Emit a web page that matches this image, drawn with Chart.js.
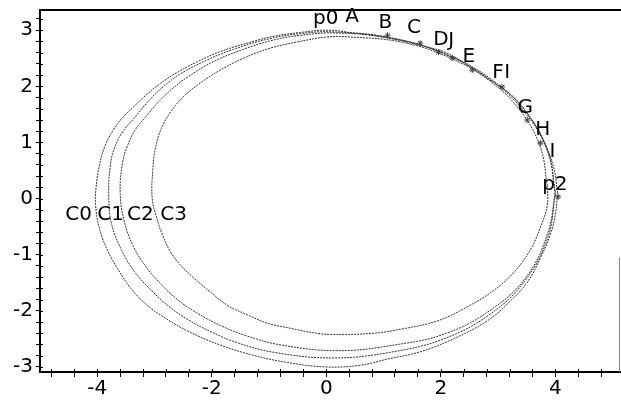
<!DOCTYPE html>
<html>
<head>
<meta charset="utf-8">
<script src="https://cdn.jsdelivr.net/npm/chart.js@4/dist/chart.umd.min.js"></script>
<style>
html,body{margin:0;padding:0;background:#fff;}
.chart_box{width:621px;height:408px;}
</style>
</head>
<body>
<div class="chart_box"><canvas id="chart"></canvas></div>
<script>
// curve C0 (outermost)
var c0x = [4.04, 3.97, 3.79, 3.56, 3.27, 2.92, 2.52, 2.11, 1.64, 1.07, 0.47, 0.02, -0.45, -0.93, -1.38, -1.85, -2.25, -2.6, -2.9, -3.13, -3.37, -3.55, -3.72, -3.86, -3.96, -4.02, -4.03, -3.97, -3.84, -3.65, -3.42, -3.13, -2.78, -2.38, -1.85, -1.28, -0.68, 0.0, 0.59, 1.07, 1.64, 2.22, 2.81, 3.16, 3.51, 3.74, 3.91, 4.0, 4.04];
var c0y = [0.1, 0.56, 1.04, 1.45, 1.81, 2.07, 2.34, 2.59, 2.73, 2.86, 2.95, 3.0, 2.96, 2.89, 2.77, 2.62, 2.44, 2.25, 2.05, 1.86, 1.63, 1.45, 1.22, 0.95, 0.6, 0.2, -0.1, -0.5, -0.88, -1.24, -1.59, -1.9, -2.15, -2.38, -2.61, -2.79, -2.92, -3.0, -2.97, -2.86, -2.73, -2.5, -2.18, -1.88, -1.49, -1.06, -0.65, -0.29, 0.1];

var c1x = [4.0, 3.87, 3.48, 2.86, 2.05, 1.11, 0.1, -0.45, -1.03, -1.62, -2.08, -2.55, -2.85, -3.13, -3.34, -3.55, -3.7, -3.77, -3.8, -3.75, -3.57, -3.35, -3.09, -2.75, -2.41, -2.0, -1.55, -0.91, 0.1, 1.11, 2.05, 2.86, 3.48, 3.87, 4.0];
var c1y = [0.07, 0.82, 1.52, 2.12, 2.58, 2.87, 2.97, 2.94, 2.84, 2.66, 2.47, 2.22, 1.99, 1.71, 1.45, 1.2, 0.9, 0.6, 0.07, -0.45, -0.93, -1.3, -1.6, -1.92, -2.16, -2.38, -2.57, -2.74, -2.84, -2.74, -2.5, -2.06, -1.45, -0.69, 0.07];

var c2x = [4.0, 3.87, 3.49, 2.89, 2.1, 1.18, 0.2, -0.45, -0.98, -1.5, -1.97, -2.43, -2.72, -2.95, -3.16, -3.34, -3.48, -3.56, -3.6, -3.53, -3.37, -3.16, -2.91, -2.6, -2.24, -1.85, -1.41, -0.78, 0.2, 1.18, 2.1, 2.89, 3.49, 3.87, 4.0];
var c2y = [0.12, 0.85, 1.54, 2.12, 2.57, 2.85, 2.95, 2.91, 2.81, 2.64, 2.44, 2.16, 1.93, 1.7, 1.45, 1.22, 0.92, 0.63, 0.12, -0.4, -0.85, -1.2, -1.5, -1.8, -2.05, -2.26, -2.44, -2.61, -2.71, -2.61, -2.4, -1.97, -1.4, -0.61, 0.12];

// curve C3 (innermost)
var c3x = [3.86, 3.74, 3.4, 2.85, 2.13, 1.3, 0.41, 0.02, -0.51, -0.98, -1.45, -1.85, -2.2, -2.5, -2.72, -2.88, -2.98, -3.03, -3.04, -2.96, -2.86, -2.72, -2.55, -2.32, -2.03, -1.73, -1.38, -1.03, -0.63, -0.23, 0.07, 0.82, 1.34, 1.94, 2.46, 2.92, 3.27, 3.56, 3.74, 3.86, 3.86];
var c3y = [0.23, 0.91, 1.55, 2.1, 2.52, 2.79, 2.88, 2.88, 2.79, 2.68, 2.5, 2.29, 2.06, 1.81, 1.54, 1.25, 0.92, 0.51, 0.0, -0.35, -0.65, -0.95, -1.18, -1.41, -1.66, -1.9, -2.07, -2.22, -2.31, -2.39, -2.42, -2.4, -2.32, -2.18, -1.93, -1.64, -1.32, -0.92, -0.51, -0.12, 0.23];

// small star marks along the labelled arc
var markX = [1.07, 1.64, 1.96, 2.2, 2.55, 3.07, 3.51, 3.74, 4.05];
var markY = [2.91, 2.77, 2.61, 2.5, 2.29, 1.99, 1.4, 0.99, 0.03];

// text labels (left edge, baseline) in data units
var labelNames = ["p0", "A", "B", "C", "D", "J", "E", "F", "I", "G", "H", "I", "p2", "C0", "C1", "C2", "C3"];
var labelX = [-0.23, 0.33, 0.91, 1.41, 1.87, 2.13, 2.38, 2.9, 3.11, 3.34, 3.65, 3.9, 3.77, -4.56, -4.0, -3.48, -2.9];
var labelY = [3.11, 3.14, 3.04, 2.95, 2.73, 2.71, 2.43, 2.15, 2.15, 1.52, 1.13, 0.74, 0.15, -0.38, -0.38, -0.38, -0.38];

var xLabels = [-4, -2, 0, 2, 4];
var yLabels = [-3, -2, -1, 0, 1, 2, 3];
var xMinorStep = 0.4;
var yMinorStep = 0.2;
var rightEdgeFrom = -1.05; // the right frame line only shows below this y

function Pts(xs, ys){
  var out = [];
  for(var i = 0; i < xs.length; i++){
    out.push({x: xs[i], y: ys[i]});
  }
  return out;
}

function TickValues(from, to, step){
  var out = [];
  for(var v = from; v <= to + 1e-9; v += step){
    out.push(Math.round(v * 10) / 10);
  }
  return out;
}

function CurveSet(xs, ys){
  return {
    data: Pts(xs, ys),
    showLine: true,
    borderColor: "#333",
    borderWidth: 1,
    borderDash: [2, 1],
    pointRadius: 0,
    fill: false,
    tension: 0.4
  };
}

var labelPlugin = {
  id: "labels",
  afterDraw: function(chart){
    var ctx = chart.ctx;
    var xs = chart.scales.x, ys = chart.scales.y;
    var area = chart.chartArea;
    ctx.save();
    // top frame line, and the bottom axis carried on to the edge
    ctx.strokeStyle = "#000";
    ctx.lineWidth = 2;
    ctx.beginPath();
    ctx.moveTo(area.left, area.top);
    ctx.lineTo(chart.width, area.top);
    ctx.moveTo(area.right - 1, area.bottom);
    ctx.lineTo(chart.width, area.bottom);
    ctx.stroke();

    // tick stubs poking into the plot
    ctx.lineWidth = 1;
    ctx.beginPath();
    xs.ticks.forEach(function(t){
      var px = Math.round(xs.getPixelForValue(t.value)) + 0.5;
      ctx.moveTo(px, area.bottom);
      ctx.lineTo(px, area.bottom - 3);
    });
    ys.ticks.forEach(function(t){
      var py = Math.round(ys.getPixelForValue(t.value)) + 0.5;
      ctx.moveTo(area.left, py);
      ctx.lineTo(area.left + 3, py);
    });
    ctx.stroke();

    // bit of right frame
    ctx.strokeStyle = "#888";
    ctx.beginPath();
    ctx.moveTo(chart.width - 1.5, ys.getPixelForValue(rightEdgeFrom));
    ctx.lineTo(chart.width - 1.5, area.bottom);
    ctx.stroke();

    ctx.fillStyle = "#000";
    ctx.font = "20px 'DejaVu Sans'";
    ctx.textAlign = "left";
    ctx.textBaseline = "alphabetic";
    for(var i = 0; i < labelNames.length; i++){
      ctx.fillText(labelNames[i], xs.getPixelForValue(labelX[i]), ys.getPixelForValue(labelY[i]));
    }
    ctx.restore();
  }
};

function Init(){
  Chart.defaults.font.family = "'DejaVu Sans'";
  Chart.defaults.font.size = 20;
  Chart.defaults.color = "#000";

  var xTicks = TickValues(-4.8, 4.8, xMinorStep);
  var yTicks = TickValues(-3, 3.2, yMinorStep);

  new Chart(document.getElementById("chart"), {
    type: "scatter",
    data: {
      datasets: [
        CurveSet(c0x, c0y),
        CurveSet(c1x, c1y),
        CurveSet(c2x, c2y),
        CurveSet(c3x, c3y),
        {
          data: Pts(markX, markY),
          pointStyle: "star",
          pointRadius: 3,
          borderColor: "#444",
          borderWidth: 1,
          showLine: false
        }
      ]
    },
    options: {
      responsive: true,
      maintainAspectRatio: false,
      animation: false,
      layout: {padding: {top: 10, right: 1, left: 0, bottom: 0}},
      plugins: {legend: {display: false}, tooltip: {enabled: false}},
      scales: {
        x: {
          type: "linear",
          min: -5,
          max: 5.06,
          afterBuildTicks: function(axis){ axis.ticks = xTicks.map(function(v){ return {value: v}; }); },
          afterFit: function(axis){ axis.height = 36; axis.paddingLeft = 0; axis.paddingRight = 0; },
          border: {display: true, color: "#000", width: 2},
          grid: {drawOnChartArea: false, drawTicks: true, tickLength: 5, color: "#000"},
          ticks: {
            autoSkip: false,
            maxRotation: 0,
            padding: 0,
            callback: function(v){ return xLabels.indexOf(Math.round(v * 10) / 10) >= 0 ? String(Math.round(v)) : ""; }
          }
        },
        y: {
          type: "linear",
          min: -3.09,
          max: 3.36,
          afterBuildTicks: function(axis){ axis.ticks = yTicks.map(function(v){ return {value: v}; }); },
          afterFit: function(axis){ axis.width = 40; axis.paddingTop = 0; axis.paddingBottom = 0; },
          border: {display: true, color: "#000", width: 2},
          grid: {drawOnChartArea: false, drawTicks: true, tickLength: 4, color: "#000"},
          ticks: {
            autoSkip: false,
            padding: 3,
            callback: function(v){ return yLabels.indexOf(Math.round(v * 10) / 10) >= 0 ? String(Math.round(v)) : ""; }
          }
        }
      }
    },
    plugins: [labelPlugin]
  });
}

Init();
</script>
</body>
</html>
